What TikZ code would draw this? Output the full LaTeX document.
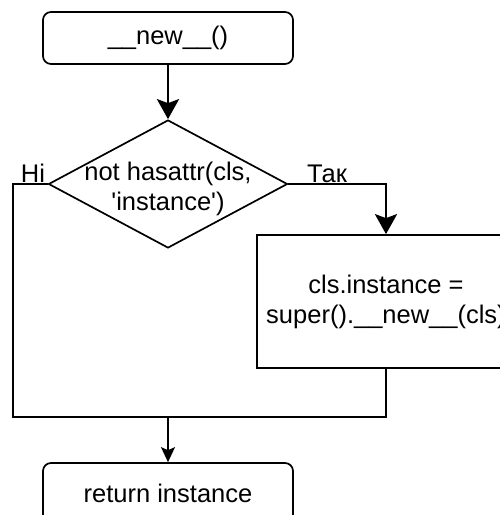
\documentclass[tikz,border=0pt]{standalone}
\usepackage{fontspec}
\setmainfont{Liberation Sans}
\usetikzlibrary{arrows.meta,positioning,shapes.geometric}

\begin{document}
\begin{tikzpicture}[
  x=1pt, y=-1pt,
  every node/.style={font=\fontsize{25.5}{30}\selectfont},
  startbox/.style={draw, line width=1.7pt, rounded corners=8pt, minimum width=250pt, minimum height=52pt, inner sep=0pt},
  procbox/.style={draw, line width=1.7pt, align=center, minimum width=258pt, minimum height=133pt, inner sep=0pt},
  decision/.style={draw, diamond, line width=1.7pt, minimum width=239pt, minimum height=128pt, inner sep=0pt},
  flow/.style={line width=1.7pt},
  bigflow/.style={line width=2.7pt},
  >={Stealth[length=20pt, width=22pt, inset=4pt]}
]
\useasboundingbox (0,0) rectangle (499,515);

\node[startbox] (newcall) at (168,38) {\_\_new\_\_()};
\node[decision] (check) at (168,184) {};
\node[align=center, inner sep=0pt] (checktext) at (168,189) {not hasattr(cls,\\\textquotesingle instance\textquotesingle)};
\node[procbox] (assign) at (386,301.5) {cls.instance =\\super().\_\_new\_\_(cls)};
\node[startbox, minimum height=60pt] (ret) at (168,493) {return instance};

\node[anchor=base, inner sep=0pt] (nolabel) at (33,182) {Ні};
\node[anchor=base west, inner sep=0pt] (yeslabel) at (307,182) {Так};

\coordinate (lcorner) at (13,417);
\coordinate (join) at (168,417);

\draw[bigflow, ->] (newcall) -- (check.north);
\draw[bigflow, ->] (check.east) -| (assign.north);
\draw[flow] (assign.south) |- (lcorner) |- (check.west);
\draw[flow, ->, >={Stealth[length=15pt, width=14pt, inset=3pt]}] (join) -- (ret.north);
\end{tikzpicture}
\end{document}
